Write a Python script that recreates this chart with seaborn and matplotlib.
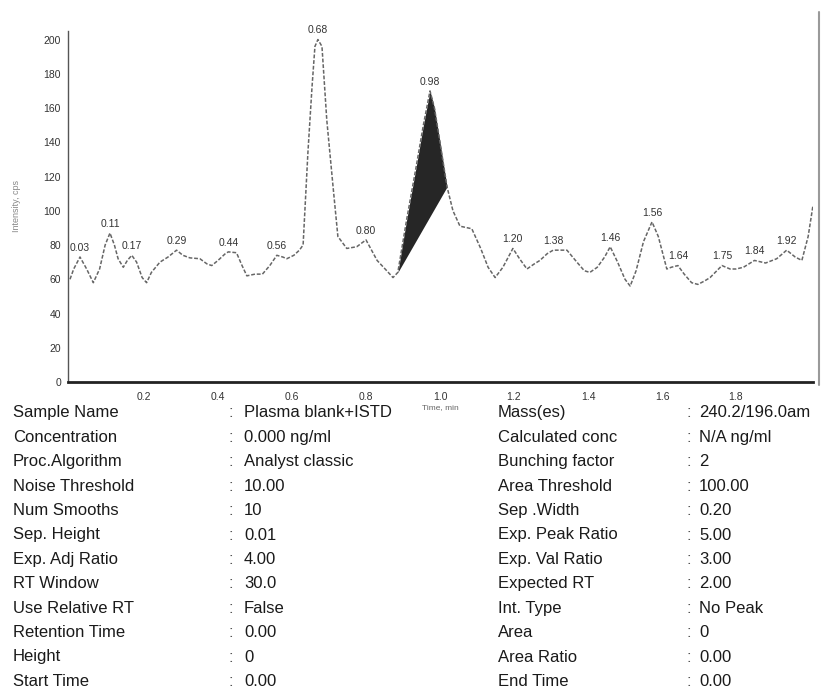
import numpy as np
import matplotlib
matplotlib.use("Agg")
import matplotlib.pyplot as plt
from matplotlib.lines import Line2D
import seaborn as sns

# chromatogram trace
time_min = [0.000, 0.010, 0.027, 0.045, 0.063, 0.080, 0.095, 0.108, 0.120, 0.130,
            0.144, 0.155, 0.167, 0.180, 0.195, 0.207, 0.220, 0.243, 0.265, 0.288,
            0.305, 0.324, 0.351, 0.370, 0.383, 0.400, 0.420, 0.428, 0.450, 0.465,
            0.478, 0.500, 0.520, 0.540, 0.559, 0.575, 0.586, 0.605, 0.620, 0.630,
            0.643, 0.654, 0.662, 0.670, 0.681, 0.694, 0.711, 0.724, 0.748, 0.775,
            0.800, 0.830, 0.856, 0.873, 0.886, 0.910, 0.935, 0.955, 0.973, 0.985,
            1.000, 1.019, 1.035, 1.054, 1.086, 1.110, 1.130, 1.149, 1.170, 1.197,
            1.215, 1.235, 1.255, 1.270, 1.290, 1.306, 1.343, 1.370, 1.390, 1.405,
            1.425, 1.445, 1.460, 1.480, 1.500, 1.514, 1.530, 1.550, 1.573, 1.590,
            1.613, 1.625, 1.643, 1.660, 1.680, 1.697, 1.715, 1.730, 1.762, 1.784,
            1.800, 1.820, 1.850, 1.880, 1.910, 1.937, 1.960, 1.978, 1.995, 2.008]
intensity = [60, 66, 73, 66, 58, 66, 80, 87, 80, 72,
             67, 71, 74, 70, 61, 58, 64, 70, 73, 77,
             74, 72.5, 72, 69, 68, 71, 75, 76, 75.5, 68,
             62, 63, 63, 68, 74, 73, 72, 74, 77, 80,
             134, 172, 196, 200, 196, 153, 114, 85, 78, 79,
             83, 71, 65, 61, 64, 95, 125, 150, 170, 160,
             140, 114, 100, 91, 89.5, 78, 67, 61, 67, 78,
             72, 66, 69, 71, 75, 77, 77, 70, 65, 64,
             67, 73, 79, 70, 60, 56, 65, 82, 93.5, 85,
             66, 67, 68, 63, 58, 57, 59, 61, 68, 66,
             66, 67, 71, 69.5, 72, 77, 73, 71, 85, 103]

peak_times = [0.027, 0.108, 0.167, 0.288, 0.428, 0.559, 0.670, 0.800, 0.973,
              1.197, 1.306, 1.460, 1.573, 1.643, 1.762, 1.850, 1.937]
peak_labels = ["0.03", "0.11", "0.17", "0.29", "0.44", "0.56", "0.68", "0.80", "0.98",
               "1.20", "1.38", "1.46", "1.56", "1.64", "1.75", "1.84", "1.92"]

# integrated (shaded) peak: start / end of the drop baseline
shade_start, shade_end = 0.886, 1.019

x_ticks = [0.2, 0.4, 0.6, 0.8, 1.0, 1.2, 1.4, 1.6, 1.8]
y_ticks = list(range(0, 201, 20))

left_keys = ["Sample Name", "Concentration", "Proc.Algorithm", "Noise Threshold",
             "Num Smooths", "Sep. Height", "Exp. Adj Ratio", "RT Window",
             "Use Relative RT", "Retention Time", "Height", "Start Time"]
left_vals = ["Plasma blank+ISTD", "0.000 ng/ml", "Analyst classic", "10.00",
             "10", "0.01", "4.00", "30.0", "False", "0.00", "0", "0.00"]
right_keys = ["Mass(es)", "Calculated conc", "Bunching factor", "Area Threshold",
              "Sep .Width", "Exp. Peak Ratio", "Exp. Val Ratio", "Expected RT",
              "Int. Type", "Area", "Area Ratio", "End Time"]
right_vals = ["240.2/196.0am", "N/A ng/ml", "2", "100.00", "0.20", "5.00", "3.00",
              "2.00", "No Peak", "0", "0.00", "0.00"]

sns.set_style("white")
plt.rcParams['font.family'] = ['Liberation Sans Narrow', 'Liberation Sans', 'DejaVu Sans']

W, H = 825, 690
fig = plt.figure(figsize=(W / 100, H / 100), dpi=100)
ax = fig.add_axes([68 / W, 1 - 382 / H, (813 - 68) / W, (382 - 31) / H])

t = np.array(time_min)
y = np.array(intensity)

sns.lineplot(x=t, y=y, ax=ax, sort=False, estimator=None, color="#666666",
             linewidth=1.1, dashes=False)
ax.lines[0].set_dashes((2.5, 1.2))

# shaded integrated peak between the trace and a straight drop baseline
m = (t >= shade_start) & (t <= shade_end)
base = np.interp(t[m], [shade_start, shade_end],
                 [np.interp(shade_start, t, y), np.interp(shade_end, t, y)])
ax.fill_between(t[m], base, y[m], color="#262626", linewidth=0)

# peak retention time labels
for pt, lab in zip(peak_times, peak_labels):
    i = int(np.argmin(np.abs(t - pt)))
    ax.annotate(lab, (t[i], y[i]), xytext=(0, 3), textcoords="offset points",
                ha="center", va="bottom", fontsize=7.5, color="#333333",
                annotation_clip=False)

ax.set_xlim(-2 / 370, (813 - 70) / 370)
ax.set_ylim(0, 205)
ax.set_xticks(x_ticks)
ax.set_xticklabels([f"{v:.1f}" for v in x_ticks])
ax.set_yticks(y_ticks)
ax.tick_params(axis="both", labelsize=7.5, colors="#333333", direction="out")
ax.tick_params(axis="y", length=4, width=0.8, pad=1)
ax.tick_params(axis="x", length=3, width=0.8, pad=4)
for side in ["top", "right"]:
    ax.spines[side].set_visible(False)
ax.spines["left"].set_color("#555555")
ax.spines["left"].set_linewidth(1.0)
ax.spines["bottom"].set_color("#222222")
ax.spines["bottom"].set_linewidth(2.0)
ax.set_xlabel("Time, min", fontsize=6, color="#666666", labelpad=2)
ax.set_ylabel("Intensity, cps", fontsize=6.5, color="#888888", labelpad=16)

# scan edge on the right
fig.add_artist(Line2D([819 / W, 819 / W], [1 - 12 / H, 1 - 385 / H],
                      color="#9a9a9a", linewidth=1.5))

# parameter table below the chromatogram
row0, dy = 413, 24.4
for k in range(len(left_keys)):
    yy = 1 - (row0 + k * dy) / H
    fig.text(13 / W, yy, left_keys[k], fontsize=12, family="Liberation Sans",
             va="center", color="#1a1a1a")
    fig.text(228 / W, yy, ":", fontsize=12, family="Liberation Sans",
             va="center", color="#555555")
    fig.text(244 / W, yy, left_vals[k], fontsize=12, family="Liberation Sans",
             va="center", color="#1a1a1a")
    fig.text(498 / W, yy, right_keys[k], fontsize=12, family="Liberation Sans",
             va="center", color="#1a1a1a")
    fig.text(686 / W, yy, ":", fontsize=12, family="Liberation Sans",
             va="center", color="#555555")
    fig.text(699 / W, yy, right_vals[k], fontsize=12, family="Liberation Sans",
             va="center", color="#1a1a1a")

fig.savefig("out.png", dpi=100)
